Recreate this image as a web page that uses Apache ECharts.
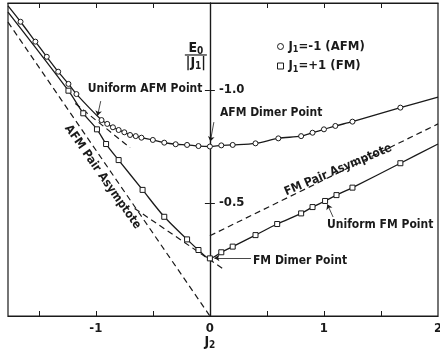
<!DOCTYPE html>
<html>
<head>
<meta charset="utf-8">
<script src="https://cdn.jsdelivr.net/npm/echarts@6/dist/echarts.min.js"></script>
<style>
  html, body { margin: 0; padding: 0; background: #fff; }
  #chart { width: 440px; height: 355px; }
</style>
</head>
<body>
<div id="chart"></div>
<script>
// J1 = -1 (AFM) : open circles
const afmJ2 = [-1.66, -1.53, -1.43, -1.33, -1.24, -1.17, -0.95, -0.90, -0.85, -0.80, -0.75, -0.70, -0.65, -0.60, -0.50, -0.40, -0.30, -0.20, -0.10, 0, 0.10, 0.20, 0.40, 0.60, 0.80, 0.90, 1.00, 1.10, 1.25, 1.67]
const afmE = [-1.302, -1.214, -1.147, -1.081, -1.027, -0.982, -0.867, -0.850, -0.835, -0.823, -0.813, -0.801, -0.796, -0.789, -0.779, -0.767, -0.760, -0.757, -0.752, -0.750, -0.755, -0.757, -0.764, -0.786, -0.796, -0.811, -0.826, -0.841, -0.860, -0.922]
// curve runs on to the frame at both ends
const afmEndsJ2 = [-1.77, 2]
const afmEndsE = [-1.372, -0.968]

// J1 = +1 (FM) : open squares
const fmJ2 = [-1.24, -1.11, -0.99, -0.91, -0.80, -0.59, -0.40, -0.20, -0.10, 0, 0.10, 0.20, 0.40, 0.59, 0.80, 0.90, 1.01, 1.11, 1.25, 1.67]
const fmE = [-0.997, -0.897, -0.826, -0.761, -0.690, -0.558, -0.439, -0.339, -0.292, -0.255, -0.282, -0.307, -0.358, -0.407, -0.454, -0.482, -0.509, -0.535, -0.568, -0.676]
const fmEndsJ2 = [-1.77, 2]
const fmEndsE = [-1.345, -0.761]

// dashed asymptotes / tangents
const afmAsymJ2 = [-1.77, 0]
const afmAsymE = [-1.30, 0]
const fmAsymJ2 = [0, 2]
const fmAsymE = [-0.355, -0.85]
const afmTanJ2 = [-1.18, -0.70]
const afmTanE = [-0.94, -0.745]
const fmTanJ2 = [-0.66, 0.13]
const fmTanE = [-0.476, -0.204]

// ticks
const xTicks = [-1.5, -1, -0.5, 0.5, 1, 1.5]
const xLabels = [-1, 0, 1, 2]
const yTicks = [-1, -0.5]

const FONT = '"Liberation Sans Narrow", "DejaVu Sans Condensed", "Arial Narrow", sans-serif'
const INK = '#1a1a1a'

const pairs = (xs, ys) => xs.map((x, i) => [x, ys[i]])
const curve = (xs, ys, endsX, endsY) => [
  { value: [endsX[0], endsY[0]], symbol: 'none' },
  ...pairs(xs, ys),
  { value: [endsX[1], endsY[1]], symbol: 'none' }
]

const dashed = (name, xs, ys) => ({
  name: name,
  type: 'line',
  data: pairs(xs, ys),
  symbol: 'none',
  silent: true,
  lineStyle: { color: INK, width: 1.2, type: [6, 4] },
  z: 1
})

const chart = echarts.init(document.getElementById('chart'))

const xCommon = {
  type: 'value',
  min: -1.77,
  max: 2,
  splitLine: { show: false },
  axisLine: { onZero: false, lineStyle: { color: INK, width: 1.2 } },
  axisTick: { inside: true, length: 5, customValues: xTicks, lineStyle: { color: INK } }
}
const yCommon = {
  type: 'value',
  min: -1.385,
  max: 0,
  inverse: true,
  position: 'left',
  splitLine: { show: false },
  axisLine: { onZero: false, lineStyle: { color: INK, width: 1.2 } }
}

const option = {
  animation: false,
  backgroundColor: '#fff',
  grid: {
    left: 8, right: 2, top: 3, bottom: 39,
    containLabel: false, outerBoundsMode: 'none',
    show: true, borderColor: INK, borderWidth: 1.2
  },
  xAxis: [
    Object.assign({}, xCommon, {
      position: 'bottom',
      axisLabel: {
        customValues: xLabels, margin: 6, color: INK,
        fontFamily: FONT, fontWeight: 'bold', fontSize: 13,
        formatter: v => String(v)
      }
    }),
    Object.assign({}, xCommon, { position: 'top', axisLabel: { show: false } })
  ],
  yAxis: [
    // right half of the cross ticks + labels
    Object.assign({}, yCommon, {
      axisTick: { inside: true, length: 5, customValues: yTicks, lineStyle: { color: INK } },
      axisLabel: {
        inside: true, customValues: yTicks, margin: 9, color: INK,
        fontFamily: FONT, fontWeight: 'bold', fontSize: 13,
        padding: [6, 0, 0, 0],
        formatter: v => v.toFixed(1)
      }
    }),
    // left half of the cross ticks
    Object.assign({}, yCommon, {
      axisTick: { inside: false, length: 5, customValues: yTicks, lineStyle: { color: INK } },
      axisLabel: { show: false }
    })
  ],
  legend: {
    orient: 'vertical',
    left: 272,
    top: 35,
    itemGap: 5,
    itemWidth: 6,
    itemHeight: 6,
    selectedMode: false,
    data: [
      { name: 'AFM', icon: 'circle', itemStyle: { color: '#fff', borderColor: INK, borderWidth: 1 } },
      { name: 'FM', icon: 'rect', itemStyle: { color: '#fff', borderColor: INK, borderWidth: 1 } }
    ],
    formatter: n => n === 'AFM' ? 'J{s|1}=-1 (AFM)' : 'J{s|1}=+1 (FM)',
    textStyle: {
      color: INK, fontFamily: FONT, fontWeight: 'bold', fontSize: 13,
      rich: { s: { fontFamily: FONT, fontWeight: 'bold', fontSize: 9, padding: [7, 0, 0, 0] } }
    }
  },
  series: [
    dashed('afmAsym', afmAsymJ2, afmAsymE),
    dashed('fmAsym', fmAsymJ2, fmAsymE),
    dashed('afmTan', afmTanJ2, afmTanE),
    dashed('fmTan', fmTanJ2, fmTanE),
    {
      name: 'AFM',
      type: 'line',
      data: curve(afmJ2, afmE, afmEndsJ2, afmEndsE),
      smooth: 0.3,
      symbol: 'circle',
      symbolSize: 5,
      itemStyle: { color: '#fff', borderColor: INK, borderWidth: 1 },
      lineStyle: { color: INK, width: 1.3 },
      z: 3
    },
    {
      name: 'FM',
      type: 'line',
      data: curve(fmJ2, fmE, fmEndsJ2, fmEndsE),
      smooth: 0.3,
      symbol: 'rect',
      symbolSize: 5,
      itemStyle: { color: '#fff', borderColor: INK, borderWidth: 1 },
      lineStyle: { color: INK, width: 1.3 },
      z: 3
    },
    {
      // pointer arrows for the labelled points
      name: 'arrows',
      type: 'line',
      data: [],
      silent: true,
      markLine: {
        silent: true,
        symbol: ['none', 'arrow'],
        symbolSize: 5,
        label: { show: false },
        lineStyle: { color: INK, width: 0.8, type: 'solid' },
        data: [
          [{ coord: [-0.957, -0.951] }, { coord: [-0.985, -0.886] }],
          [{ coord: [0.035, -0.858] }, { coord: [0.004, -0.772] }],
          [{ coord: [1.08, -0.438] }, { coord: [1.03, -0.494] }],
          [{ coord: [0.36, -0.257] }, { coord: [0.04, -0.257] }]
        ]
      }
    }
  ]
}
chart.setOption(option)

// move the E0 axis (line, ticks and labels) across to J2 = 0
const px = (x, y) => chart.convertToPixel({ gridIndex: 0 }, [x, y])
const shift = px(xCommon.min, 0)[0] - px(0, 0)[0]
chart.setOption({ yAxis: [{ offset: shift }, { offset: shift }] })

// annotations, anchored in data coordinates
const LABEL_FONT = 'bold 12px ' + FONT
const note = (text, x, y, align, rot) => {
  const p = px(x, y)
  return {
    type: 'text', x: p[0], y: p[1], rotation: rot || 0,
    style: { text: text, fill: INK, font: LABEL_FONT, align: align || 'left', verticalAlign: 'middle' }
  }
}
const sub = (text, x, y) => ({
  type: 'text', x: x, y: y,
  style: {
    text: text, fill: INK, font: 'bold 14px ' + FONT, align: 'center', verticalAlign: 'middle',
    rich: { s: { font: 'bold 10px ' + FONT, padding: [6, 0, 0, 0] } }
  }
})

const eTop = px(-0.123, -1.186)
const eBar = px(-0.123, -1.155)
const jBot = px(-0.123, -1.118)
const j2 = px(0, 0)

chart.setOption({
  graphic: [
    note('Uniform AFM Point', -1.071, -1.004, 'left'),
    note('AFM Dimer Point', 0.088, -0.898, 'left'),
    note('Uniform FM Point', 1.027, -0.403, 'left'),
    note('FM Dimer Point', 0.378, -0.243, 'left'),
    note('AFM Pair Asymptote', -0.94, -0.615, 'center', -55 * Math.PI / 180),
    note('FM Pair Asymptote', 1.124, -0.646, 'center', 23 * Math.PI / 180),
    sub('E{s|0}', eTop[0], eTop[1]),
    {
      type: 'line',
      shape: { x1: eBar[0] - 11, y1: eBar[1], x2: eBar[0] + 11, y2: eBar[1] },
      style: { stroke: INK, lineWidth: 1.2 }
    },
    sub('|J{s|1}|', jBot[0], jBot[1]),
    sub('J{s|2}', j2[0], j2[1] + 26)
  ]
})
</script>
</body>
</html>
